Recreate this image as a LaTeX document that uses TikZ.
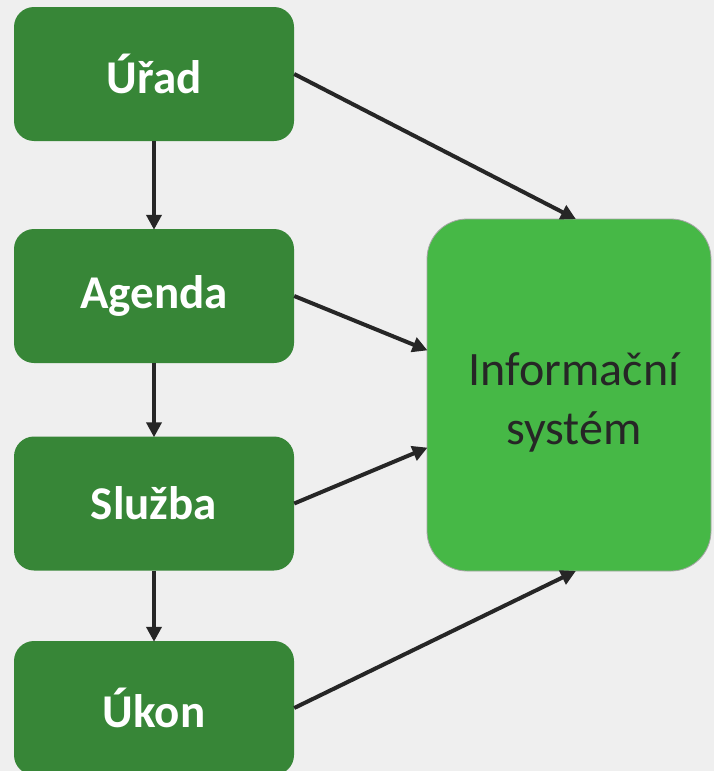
\documentclass[tikz,border=0pt]{standalone}
\usepackage{fontspec}
\setmainfont{Carlito}
\usetikzlibrary{arrows.meta}
\definecolor{bg}{HTML}{EFEFEF}
\definecolor{darkgreen}{HTML}{378637}
\definecolor{lightgreen}{HTML}{46B846}
\definecolor{ink}{HTML}{262626}
\tikzset{
  leftbox/.style={fill=darkgreen, rounded corners=20pt, minimum width=280pt, minimum height=134pt,
    inner sep=0pt, text=white, font=\fontsize{47}{56}\selectfont\bfseries},
  isbox/.style={fill=lightgreen, draw=black!35, line width=0.8pt, rounded corners=40pt,
    minimum width=284pt, minimum height=352pt, inner sep=0pt},
  istext/.style={text=ink, align=center, inner sep=0pt, font=\fontsize{48}{59}\selectfont},
  conn/.style={draw=ink, line width=4pt, -{Triangle[length=15pt,width=15pt]}, shorten >=-1pt}
}
\begin{document}
\begin{tikzpicture}[x=1pt,y=-1pt]
\fill[bg] (0,0) rectangle (714,771);
\useasboundingbox (0,0) rectangle (714,771);
\node[leftbox] (urad) at (154,74) {Úřad};
\node[leftbox] (agenda) at (154,296) {Agenda};
\node[leftbox] (sluzba) at (154,503.5) {Služba};
\node[leftbox] (ukon) at (154,708) {Úkon};
\node[isbox] (is) at (569,395) {};
\node[istext] (istxt) at (574,402) {Informační\\systém};
\draw[conn] (urad) -- (agenda);
\draw[conn] (agenda) -- (sluzba);
\draw[conn] (sluzba) -- (ukon);
\draw[conn] (urad.east) -- ([xshift=6pt]is.north);
\draw[conn] (agenda.east) -- ([yshift=45pt]is.west);
\draw[conn] (sluzba.east) -- ([yshift=-53pt]is.west);
\draw[conn] (ukon.east) -- ([xshift=6pt]is.south);
\end{tikzpicture}
\end{document}
